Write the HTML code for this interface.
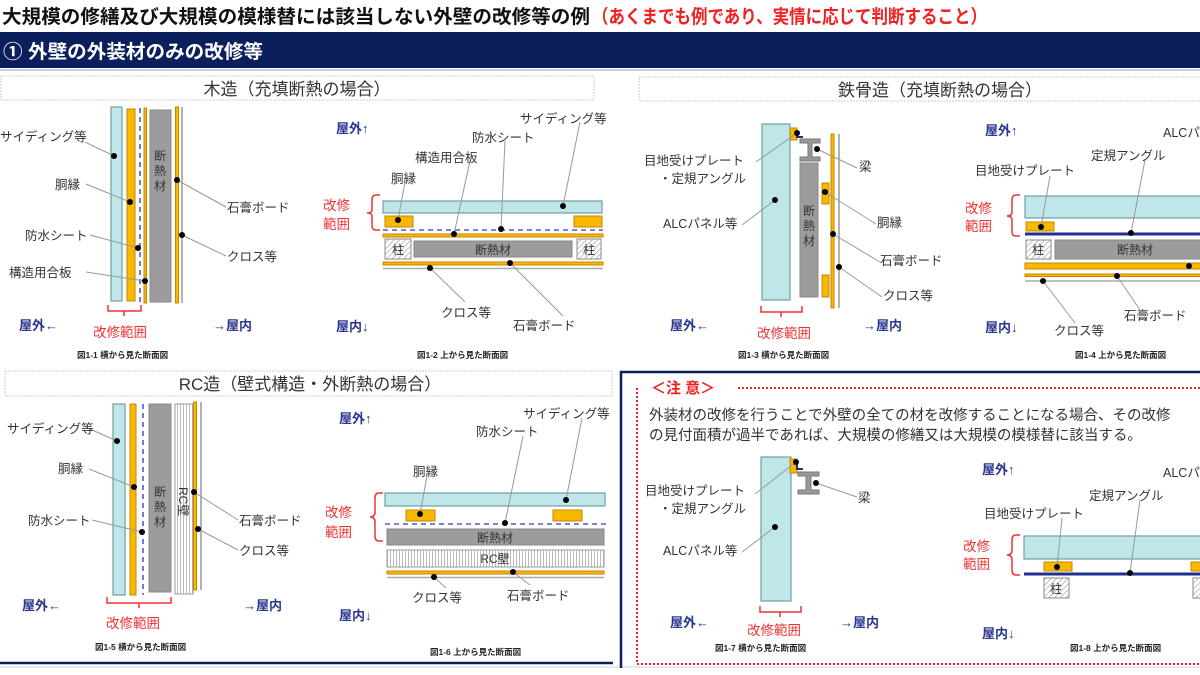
<!DOCTYPE html>
<html><head><meta charset="utf-8"><style>
html,body{margin:0;padding:0;background:#fff;}
svg{display:block;font-family:"Liberation Sans","Noto Sans CJK JP",sans-serif;}
.l{font-size:12.5px;fill:#333;}
.b{font-size:13px;fill:#2a3590;font-weight:bold;}
.r{font-size:13.5px;fill:#ee3333;}
.c{font-size:8.5px;fill:#222;font-weight:bold;}
.ld{stroke:#999;stroke-width:1;fill:none;}
.sb{fill:#bfe6e8;stroke:#6e9fa3;stroke-width:1.2;}
.or{fill:#f8b800;stroke:#c98600;stroke-width:1;}
.gr{fill:#9c9c9c;stroke:#888;stroke-width:1;}
.dash{stroke:#4b5ad6;stroke-width:1.6;stroke-dasharray:5,4;fill:none;}
.br{stroke:#ee3333;stroke-width:1.5;fill:none;}
.hd{font-size:17px;fill:#333;}
</style></head><body>
<svg width="1200" height="675" viewBox="0 0 1200 675" xmlns="http://www.w3.org/2000/svg">
<defs>
<pattern id="hat" width="4" height="4" patternUnits="userSpaceOnUse" patternTransform="rotate(45)"><rect width="4" height="4" fill="#fff"/><line x1="0" y1="0" x2="0" y2="4" stroke="#999" stroke-width="1.2"/></pattern>
<pattern id="vs" width="3" height="6" patternUnits="userSpaceOnUse"><rect width="3" height="6" fill="#fff"/><line x1="0.5" y1="0" x2="0.5" y2="6" stroke="#aaa" stroke-width="0.8"/></pattern>
</defs>
<rect width="1200" height="675" fill="#fff"/>
<!-- title -->
<text x="2" y="23" font-size="19" font-weight="bold" fill="#111" textLength="588" lengthAdjust="spacingAndGlyphs">大規模の修繕及び大規模の模様替には該当しない外壁の改修等の例</text>
<text x="592" y="23" font-size="19" font-weight="bold" fill="#ee2222" textLength="395" lengthAdjust="spacingAndGlyphs">（あくまでも例であり、実情に応じて判断すること）</text>
<rect x="0" y="32" width="1200" height="36" fill="#0b1f5c"/>
<line x1="0" y1="70" x2="1200" y2="70" stroke="#c8cde0" stroke-width="2"/>
<text x="3" y="58" font-size="19" font-weight="bold" fill="#fff" textLength="260" lengthAdjust="spacingAndGlyphs">① 外壁の外装材のみの改修等</text>

<!-- section headers -->
<rect x="1" y="76" width="593" height="24" fill="#fff" stroke="#ccc" stroke-dasharray="2,1"/>
<text x="297" y="95" class="hd" text-anchor="middle">木造（充填断熱の場合）</text>
<rect x="639" y="77" width="570" height="24" fill="#fff" stroke="#ccc" stroke-dasharray="2,1"/>
<text x="940" y="96" class="hd" text-anchor="middle">鉄骨造（充填断熱の場合）</text>
<rect x="5" y="371" width="607" height="25" fill="#fff" stroke="#ccc" stroke-dasharray="2,1"/>
<text x="310" y="390" class="hd" text-anchor="middle">RC造（壁式構造・外断熱の場合）</text>

<!-- ===== Fig 1-1 ===== -->
<rect x="111" y="107" width="11" height="194" class="sb"/>
<rect x="127" y="109" width="8" height="192" class="or"/>
<line x1="140" y1="108" x2="140" y2="302" class="dash"/>
<rect x="144" y="108" width="2.5" height="195" class="or"/>
<rect x="150" y="110" width="21" height="192" class="gr"/>
<text x="160" y="160" font-size="12" fill="#333" text-anchor="middle">断</text>
<text x="160" y="175" font-size="12" fill="#333" text-anchor="middle">熱</text>
<text x="160" y="190" font-size="12" fill="#333" text-anchor="middle">材</text>
<rect x="175.5" y="107" width="3" height="196" class="or"/>
<line x1="182" y1="107" x2="182" y2="303" stroke="#999" stroke-width="1.5"/>
<path class="ld" d="M85 142 L114 156 M86 184 L130 202 M90 235 L138 248 M86 272 L145 281 M226 207 L177 180 M226 256 L182 235"/>
<g fill="#000"><circle cx="114" cy="156" r="3"/><circle cx="130" cy="202" r="3"/><circle cx="138" cy="248" r="3"/><circle cx="145" cy="281" r="3"/><circle cx="177" cy="180" r="3"/><circle cx="182" cy="235" r="3"/></g>
<text x="0" y="141" class="l">サイディング等</text>
<text x="55" y="189" class="l">胴縁</text>
<text x="25" y="240" class="l">防水シート</text>
<text x="9" y="277" class="l">構造用合板</text>
<text x="227" y="212" class="l">石膏ボード</text>
<text x="227" y="261" class="l">クロス等</text>
<path class="br" d="M108 305 v6 h16 v5 M124 311 h17 v-6"/>
<text x="93" y="337" class="r">改修範囲</text>
<text x="19" y="330" class="b">屋外←</text>
<text x="213" y="330" class="b">→屋内</text>
<text x="77" y="358" class="c">図1-1 横から見た断面図</text>

<!-- ===== Fig 1-2 ===== -->
<text x="336" y="133" class="b">屋外↑</text>
<text x="336" y="331" class="b">屋内↓</text>
<rect x="383" y="201" width="219" height="12" class="sb"/>
<rect x="385" y="216" width="28" height="11" class="or"/>
<rect x="574" y="216" width="28" height="11" class="or"/>
<line x1="383" y1="230" x2="603" y2="230" class="dash"/>
<rect x="383" y="234" width="220" height="3" class="or"/>
<rect x="385" y="239" width="26" height="20" fill="url(#hat)" stroke="#888"/>
<text x="398" y="254" font-size="12" fill="#333" text-anchor="middle">柱</text>
<rect x="577" y="239" width="24" height="20" fill="url(#hat)" stroke="#888"/>
<text x="589" y="254" font-size="12" fill="#333" text-anchor="middle">柱</text>
<rect x="414" y="241" width="158" height="16" class="gr"/>
<text x="493" y="254" font-size="12" fill="#333" text-anchor="middle">断熱材</text>
<rect x="383" y="262" width="220" height="3" class="or"/>
<line x1="383" y1="268.5" x2="603" y2="268.5" stroke="#aaa" stroke-width="1.5"/>
<path class="ld" d="M580 122 L563 206 M505 141 L501 229 M470 161 L454 234 M405 182 L398 220 M465 302 L430 268 M563 316 L510 263"/>
<g fill="#000"><circle cx="563" cy="206" r="3"/><circle cx="398" cy="220" r="3"/><circle cx="501" cy="229" r="3"/><circle cx="454" cy="234" r="3"/><circle cx="430" cy="268" r="3"/><circle cx="510" cy="263" r="3"/></g>
<text x="520" y="123" class="l">サイディング等</text>
<text x="472" y="142" class="l">防水シート</text>
<text x="415" y="162" class="l">構造用合板</text>
<text x="391" y="183" class="l">胴縁</text>
<text x="441" y="317" class="l">クロス等</text>
<text x="513" y="330" class="l">石膏ボード</text>
<path class="br" d="M380 195 h-4 q-4 0 -4 5 v10 q0 3 -5 3 q5 0 5 3 v10 q0 4 4 4 h4"/>
<text x="323" y="210" class="r">改修</text>
<text x="323" y="229" class="r">範囲</text>
<text x="417" y="358" class="c">図1-2 上から見た断面図</text>

<!-- ===== Fig 1-3 ===== -->
<rect x="762" y="124" width="28" height="176" class="sb"/>
<rect x="790" y="128" width="7" height="12" class="or"/>
<path d="M797 131 v6 h6" stroke="#1f2f8f" stroke-width="2" fill="none"/>
<path d="M800 139 h20 v4 h-8 v14 h8 v4 h-20 v-4 h8 v-14 h-8z" fill="#999" stroke="#777"/>
<rect x="800" y="163" width="18" height="134" class="gr"/>
<text x="809" y="215" font-size="12" fill="#333" text-anchor="middle">断</text>
<text x="809" y="230" font-size="12" fill="#333" text-anchor="middle">熱</text>
<text x="809" y="245" font-size="12" fill="#333" text-anchor="middle">材</text>
<rect x="822" y="183" width="7" height="21" class="or"/>
<rect x="822" y="275" width="7" height="22" class="or"/>
<rect x="831" y="134" width="3" height="174" class="or"/>
<line x1="839" y1="134" x2="839" y2="308" stroke="#999" stroke-width="1.5"/>
<path class="ld" d="M756 162 L797 133 M742 225 L775 200 M857 168 L817 149 M876 224 L825 192 M880 262 L833 234 M882 297 L839 267"/>
<g fill="#000"><circle cx="797" cy="133" r="3"/><circle cx="817" cy="149" r="3"/><circle cx="775" cy="200" r="3"/><circle cx="825" cy="192" r="3"/><circle cx="833" cy="234" r="3"/><circle cx="839" cy="267" r="3"/></g>
<text x="644" y="165" class="l">目地受けプレート</text>
<text x="659" y="183" class="l">・定規アングル</text>
<text x="663" y="228" class="l">ALCパネル等</text>
<text x="859" y="171" class="l">梁</text>
<text x="877" y="227" class="l">胴縁</text>
<text x="880" y="265" class="l">石膏ボード</text>
<text x="883" y="300" class="l">クロス等</text>
<path class="br" d="M761 306 v6 h20 v5 M781 312 h21 v-6"/>
<text x="757" y="338" class="r">改修範囲</text>
<text x="670" y="330" class="b">屋外←</text>
<text x="863" y="330" class="b">→屋内</text>
<text x="738" y="358" class="c">図1-3 横から見た断面図</text>

<!-- ===== Fig 1-4 ===== -->
<text x="985" y="135" class="b">屋外↑</text>
<text x="985" y="332" class="b">屋内↓</text>
<rect x="1025" y="196" width="180" height="22" class="sb"/>
<rect x="1026" y="222" width="28" height="9" class="or"/>
<line x1="1025" y1="234" x2="1200" y2="234" stroke="#1f2f8f" stroke-width="3"/>
<rect x="1026" y="240" width="25" height="19" fill="url(#hat)" stroke="#888"/>
<text x="1038" y="254" font-size="12" fill="#333" text-anchor="middle">柱</text>
<rect x="1055" y="240" width="150" height="19" class="gr"/>
<text x="1135" y="254" font-size="12" fill="#333" text-anchor="middle">断熱材</text>
<rect x="1025" y="263" width="180" height="6" class="or"/>
<rect x="1025" y="274" width="180" height="2.5" class="or"/>
<line x1="1025" y1="281" x2="1200" y2="281" stroke="#aaa" stroke-width="1.5"/>
<path class="ld" d="M1050 176 L1041 227 M1145 160 L1131 233 M1140 310 L1117 276 M1075 323 L1043 281"/>
<g fill="#000"><circle cx="1041" cy="227" r="3"/><circle cx="1131" cy="233" r="3"/><circle cx="1189" cy="266" r="3"/><circle cx="1117" cy="276" r="3"/><circle cx="1043" cy="281" r="3"/></g>
<text x="1163" y="137" class="l">ALCパネル等</text>
<text x="1091" y="160" class="l">定規アングル</text>
<text x="975" y="175" class="l">目地受けプレート</text>
<text x="1124" y="320" class="l">石膏ボード</text>
<text x="1054" y="335" class="l">クロス等</text>
<path class="br" d="M1020 195 h-4 q-4 0 -4 5 v12 q0 4 -5 4 q5 0 5 4 v12 q0 4 4 4 h4"/>
<text x="965" y="213" class="r">改修</text>
<text x="965" y="231" class="r">範囲</text>
<text x="1075" y="358" class="c">図1-4 上から見た断面図</text>

<!-- ===== RC box border ===== -->
<line x1="0" y1="663" x2="613" y2="663" stroke="#0b1f5c" stroke-width="2.5"/>
<line x1="0" y1="667" x2="1200" y2="667" stroke="#e6e8ef" stroke-width="2"/>

<!-- ===== Fig 1-5 ===== -->
<rect x="113" y="404" width="12" height="191" class="sb"/>
<rect x="130" y="404" width="6" height="191" class="or"/>
<line x1="143" y1="404" x2="143" y2="595" class="dash"/>
<rect x="149" y="404" width="22" height="188" class="gr"/>
<text x="160" y="496" font-size="12" fill="#333" text-anchor="middle">断</text>
<text x="160" y="511" font-size="12" fill="#333" text-anchor="middle">熱</text>
<text x="160" y="526" font-size="12" fill="#333" text-anchor="middle">材</text>
<rect x="175" y="404" width="18" height="190" fill="url(#vs)" stroke="#999"/>
<text transform="translate(179,487) rotate(90)" font-size="12" fill="#333">RC壁</text>
<rect x="193.5" y="402" width="3" height="188" class="or"/>
<line x1="201" y1="402" x2="201" y2="590" stroke="#999" stroke-width="1.5"/>
<path class="ld" d="M90 429 L117 441 M89 469 L134 487 M92 520 L142 532 M238 520 L194 492 M238 550 L198 529"/>
<g fill="#000"><circle cx="117" cy="441" r="3"/><circle cx="134" cy="487" r="3"/><circle cx="142" cy="532" r="3"/><circle cx="194" cy="492" r="3"/><circle cx="198" cy="529" r="3"/></g>
<text x="7" y="433" class="l">サイディング等</text>
<text x="58" y="473" class="l">胴縁</text>
<text x="28" y="525" class="l">防水シート</text>
<text x="239" y="525" class="l">石膏ボード</text>
<text x="239" y="555" class="l">クロス等</text>
<path class="br" d="M107 597 v6 h32 v5 M139 603 h32 v-6"/>
<text x="106" y="628" class="r">改修範囲</text>
<text x="22" y="610" class="b">屋外←</text>
<text x="243" y="610" class="b">→屋内</text>
<text x="95" y="650" class="c">図1-5 横から見た断面図</text>

<!-- ===== Fig 1-6 ===== -->
<text x="339" y="423" class="b">屋外↑</text>
<text x="339" y="620" class="b">屋内↓</text>
<rect x="385" y="493" width="220" height="13" class="sb"/>
<rect x="406" y="510" width="29" height="11" class="or"/>
<rect x="553" y="510" width="29" height="11" class="or"/>
<line x1="385" y1="524" x2="606" y2="524" class="dash"/>
<rect x="387" y="529" width="217" height="16" class="gr"/>
<text x="495" y="542" font-size="12" fill="#333" text-anchor="middle">断熱材</text>
<rect x="387" y="550" width="217" height="17" fill="url(#vs)" stroke="#999"/>
<text x="495" y="563" font-size="12" fill="#333" text-anchor="middle">RC壁</text>
<rect x="387" y="571" width="217" height="3" class="or"/>
<line x1="387" y1="577.5" x2="604" y2="577.5" stroke="#aaa" stroke-width="1.5"/>
<path class="ld" d="M582 418 L566 500 M523 436 L505 523 M427 476 L420 514 M446 588 L434 577 M530 585 L513 572"/>
<g fill="#000"><circle cx="566" cy="500" r="3"/><circle cx="420" cy="514" r="3"/><circle cx="505" cy="523" r="3"/><circle cx="513" cy="572" r="3"/><circle cx="434" cy="577" r="3"/></g>
<text x="523" y="418" class="l">サイディング等</text>
<text x="476" y="436" class="l">防水シート</text>
<text x="413" y="476" class="l">胴縁</text>
<text x="412" y="602" class="l">クロス等</text>
<text x="507" y="600" class="l">石膏ボード</text>
<path class="br" d="M383 493 h-4 q-4 0 -4 5 v14 q0 5 -5 5 q5 0 5 5 v14 q0 5 4 5 h4"/>
<text x="325" y="517" class="r">改修</text>
<text x="325" y="537" class="r">範囲</text>
<text x="430" y="655" class="c">図1-6 上から見た断面図</text>

<!-- ===== 注意 box ===== -->
<path d="M621 668 V372 H1202" stroke="#0b1f5c" stroke-width="2.5" fill="none"/>
<path d="M738 388 H1202 M637 388 V664 H1202" stroke="#ee2222" stroke-width="2" stroke-dasharray="2,2" fill="none"/>
<text x="651" y="393" font-size="15" font-weight="bold" fill="#ee2222">＜注 意＞</text>
<text x="649" y="420" font-size="14.5" fill="#333">外装材の改修を行うことで外壁の全ての材を改修することになる場合、その改修</text>
<text x="649" y="440" font-size="14.5" fill="#333">の見付面積が過半であれば、大規模の修繕又は大規模の模様替に該当する。</text>

<!-- ===== Fig 1-7 ===== -->
<rect x="761" y="457" width="30" height="144" class="sb"/>
<rect x="790" y="459" width="7" height="14" class="or"/>
<path d="M797 463 v6 h6" stroke="#1f2f8f" stroke-width="2" fill="none"/>
<path d="M798 472 h21 v4 h-8 v14 h8 v4 h-21 v-4 h8 v-14 h-8z" fill="#999" stroke="#777"/>
<path class="ld" d="M755 494 L796 462 M742 552 L775 527 M857 497 L816 483"/>
<g fill="#000"><circle cx="796" cy="462" r="3"/><circle cx="816" cy="483" r="3"/><circle cx="775" cy="527" r="3"/></g>
<text x="645" y="495" class="l">目地受けプレート</text>
<text x="659" y="513" class="l">・定規アングル</text>
<text x="663" y="555" class="l">ALCパネル等</text>
<text x="858" y="502" class="l">梁</text>
<path class="br" d="M760 606 v6 h20 v5 M780 612 h21 v-6"/>
<text x="747" y="635" class="r">改修範囲</text>
<text x="670" y="627" class="b">屋外←</text>
<text x="840" y="627" class="b">→屋内</text>
<text x="715" y="651" class="c">図1-7 横から見た断面図</text>

<!-- ===== Fig 1-8 ===== -->
<text x="982" y="474" class="b">屋外↑</text>
<text x="982" y="638" class="b">屋内↓</text>
<rect x="1024" y="536" width="180" height="23" class="sb"/>
<rect x="1044" y="562" width="28" height="9" class="or"/>
<rect x="1191" y="562" width="20" height="9" class="or"/>
<line x1="1024" y1="574" x2="1200" y2="574" stroke="#1f2f8f" stroke-width="3"/>
<rect x="1044" y="578" width="25" height="20" fill="url(#hat)" stroke="#888"/>
<text x="1056" y="593" font-size="12" fill="#333" text-anchor="middle">柱</text>
<rect x="1193" y="578" width="20" height="20" fill="url(#hat)" stroke="#888"/>
<path class="ld" d="M1062 518 L1057 567 M1140 500 L1130 573"/>
<g fill="#000"><circle cx="1057" cy="567" r="3"/><circle cx="1130" cy="573" r="3"/></g>
<text x="1163" y="477" class="l">ALCパネル等</text>
<text x="1089" y="500" class="l">定規アングル</text>
<text x="984" y="518" class="l">目地受けプレート</text>
<path class="br" d="M1020 535 h-4 q-4 0 -4 5 v10 q0 5 -5 5 q5 0 5 5 v10 q0 5 4 5 h4"/>
<text x="963" y="551" class="r">改修</text>
<text x="963" y="569" class="r">範囲</text>
<text x="1070" y="651" class="c">図1-8 上から見た断面図</text>
</svg>
</body></html>
